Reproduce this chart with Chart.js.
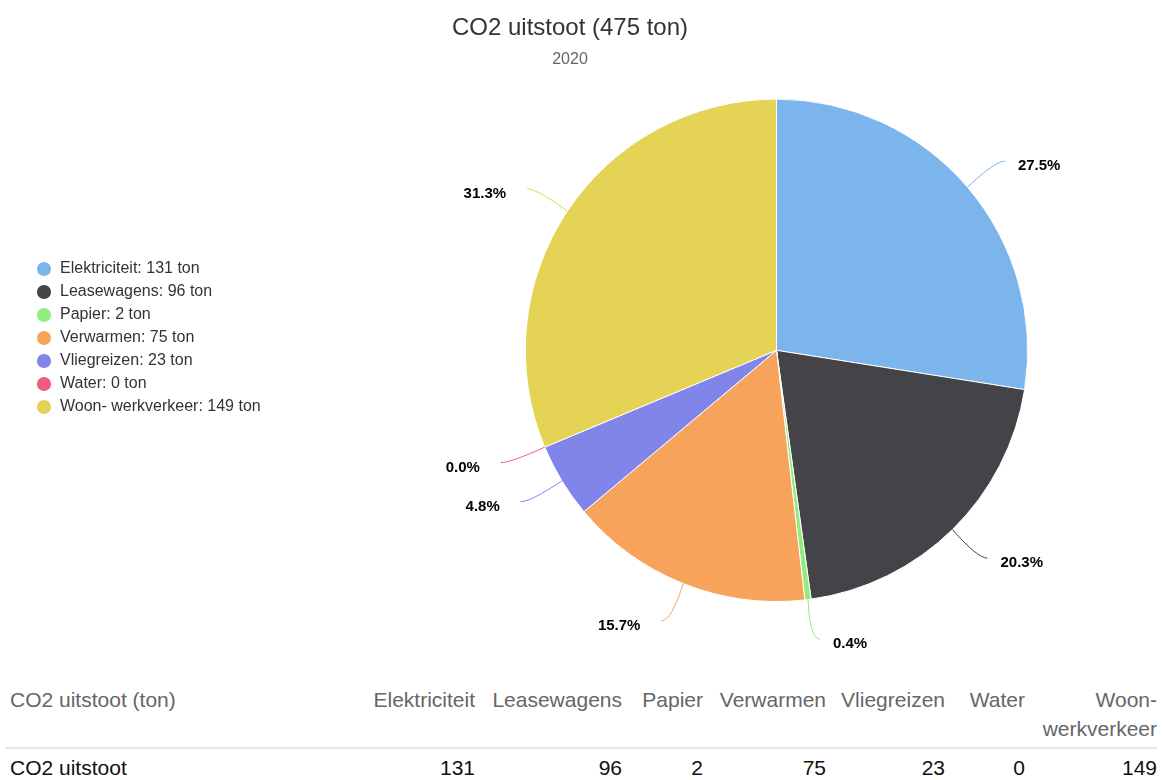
<!DOCTYPE html>
<html>
<head>
<meta charset="utf-8">
<title>CO2 uitstoot</title>
<script src="https://cdn.jsdelivr.net/npm/chart.js@4.4.1/dist/chart.umd.min.js"></script>
<style>
  html, body { margin: 0; padding: 0; background: #fff; }
  body {
    width: 1164px; height: 780px; overflow: hidden; position: relative;
    font-family: "Liberation Sans", Arial, sans-serif;
  }
  #chartBox { position: absolute; left: 0; top: 0; width: 1111px; height: 665px; }
  #dataTable {
    position: absolute; left: 5px; top: 685px;
    border-collapse: collapse; table-layout: fixed; font-size: 21px;
  }
  #dataTable th {
    color: #666; font-weight: normal; text-align: right; vertical-align: top;
    line-height: 29px; padding: 0 0 4px 0; border-bottom: 2px solid #e6e6e6;
  }
  #dataTable td {
    color: #111; text-align: right; line-height: 29px; padding: 4px 0 0 0;
  }
  #dataTable th:first-child, #dataTable td:first-child { text-align: left; padding-left: 5px; }
</style>
</head>
<body>
<div id="chartBox"><canvas id="co2Chart"></canvas></div>
<table id="dataTable"></table>

<script>
// Data
const categories = ['Elektriciteit', 'Leasewagens', 'Papier', 'Verwarmen', 'Vliegreizen', 'Water', 'Woon- werkverkeer'];
const tons = [131, 96, 2, 75, 23, 0, 149];
const shares = [27.5, 20.3, 0.4, 15.7, 4.8, 0.0, 31.3];
const colors = ['#7cb5ec', '#434348', '#90ed7d', '#f7a35c', '#8085e9', '#f15c80', '#e4d354'];
const totalTons = 475;
const year = '2020';

const FONT = '"Liberation Sans", Arial, sans-serif';
Chart.defaults.font.family = FONT;

/**
 * Widen the left legend so the pie sits right of centre,
 * and drop its items a bit lower
 */
const legendPlacement = {
    id: 'legendPlacement',
    beforeLayout(chart) {
        const lg = chart.legend;
        if (lg && !lg._widened) {
            const fit = lg.fit;
            lg.fit = function () {
                fit.call(this);
                this.width = 413;
            };
            lg._widened = true;
        }
    },
    afterLayout(chart) {
        const lg = chart.legend;
        if (lg) {
            lg.top += 37;
            lg.bottom += 37;
        }
    },
};

/**
 * Percentage labels outside the pie with curved connectors
 */
const sliceLabels = {
    id: 'sliceLabels',
    afterDatasetsDraw(chart) {
        const { ctx } = chart;
        const meta = chart.getDatasetMeta(0);
        ctx.save();
        ctx.font = `bold 15px ${FONT}`;
        ctx.textBaseline = 'middle';
        meta.data.forEach((arc, i) => {
            const { x, y, startAngle, endAngle, outerRadius } =
                arc.getProps(['x', 'y', 'startAngle', 'endAngle', 'outerRadius'], true);
            const mid = (startAngle + endAngle) / 2;
            const cos = Math.cos(mid);
            const sin = Math.sin(mid);
            const side = cos >= 0 ? 1 : -1;
            const sx = x + outerRadius * cos;
            const sy = y + outerRadius * sin;
            const far = outerRadius + 40;
            const ex = x + far * cos + 7 * side;
            const ey = y + far * sin;

            ctx.strokeStyle = colors[i];
            ctx.lineWidth = 1;
            ctx.beginPath();
            ctx.moveTo(sx, sy);
            ctx.quadraticCurveTo(ex - 10 * side, ey, ex, ey);
            ctx.stroke();

            ctx.fillStyle = '#000';
            ctx.textAlign = side > 0 ? 'left' : 'right';
            ctx.fillText(shares[i].toFixed(1) + '%', ex + (side > 0 ? 13 : -21), ey + 5);
        });
        ctx.restore();
    },
};

new Chart(document.getElementById('co2Chart'), {
    type: 'pie',
    data: {
        labels: categories,
        datasets: [{
            data: shares,
            backgroundColor: colors,
            borderColor: '#ffffff',
            borderWidth: 1,
        }],
    },
    options: {
        responsive: true,
        maintainAspectRatio: false,
        animation: false,
        events: [],
        layout: { padding: { left: 29, right: 0, top: 0, bottom: 63 } },
        plugins: {
            title: {
                display: true,
                text: `CO2 uitstoot (${totalTons} ton)`,
                color: '#333',
                font: { size: 24, weight: 'normal' },
                padding: { top: 14, bottom: 6.6 },
            },
            subtitle: {
                display: true,
                text: year,
                color: '#666',
                font: { size: 16, weight: 'normal' },
                padding: { top: 1, bottom: 29 },
            },
            legend: {
                position: 'left',
                labels: {
                    usePointStyle: true,
                    boxWidth: 16,
                    boxHeight: 10,
                    padding: 7,
                    color: '#333',
                    font: { size: 16 },
                    generateLabels: () => categories.map((c, i) => ({
                        text: `${c}: ${tons[i]} ton`,
                        fillStyle: colors[i],
                        strokeStyle: colors[i],
                        lineWidth: 0,
                        pointStyle: 'circle',
                        fontColor: '#333',
                        hidden: false,
                        index: i,
                    })),
                },
            },
            tooltip: { enabled: false },
        },
    },
    plugins: [legendPlacement, sliceLabels],
});

// Data table under the chart
const colWidths = [355, 115, 147, 81, 123, 119, 80, 132];
const table = document.getElementById('dataTable');
table.innerHTML =
    '<colgroup>' + colWidths.map(w => `<col style="width:${w}px">`).join('') + '</colgroup>' +
    '<thead><tr><th>CO2 uitstoot (ton)</th>' + categories.map(c => `<th>${c}</th>`).join('') + '</tr></thead>' +
    '<tbody><tr><td>CO2 uitstoot</td>' + tons.map(v => `<td>${v}</td>`).join('') + '</tr></tbody>';
table.style.width = colWidths.reduce((a, b) => a + b, 0) + 'px';
</script>
</body>
</html>
